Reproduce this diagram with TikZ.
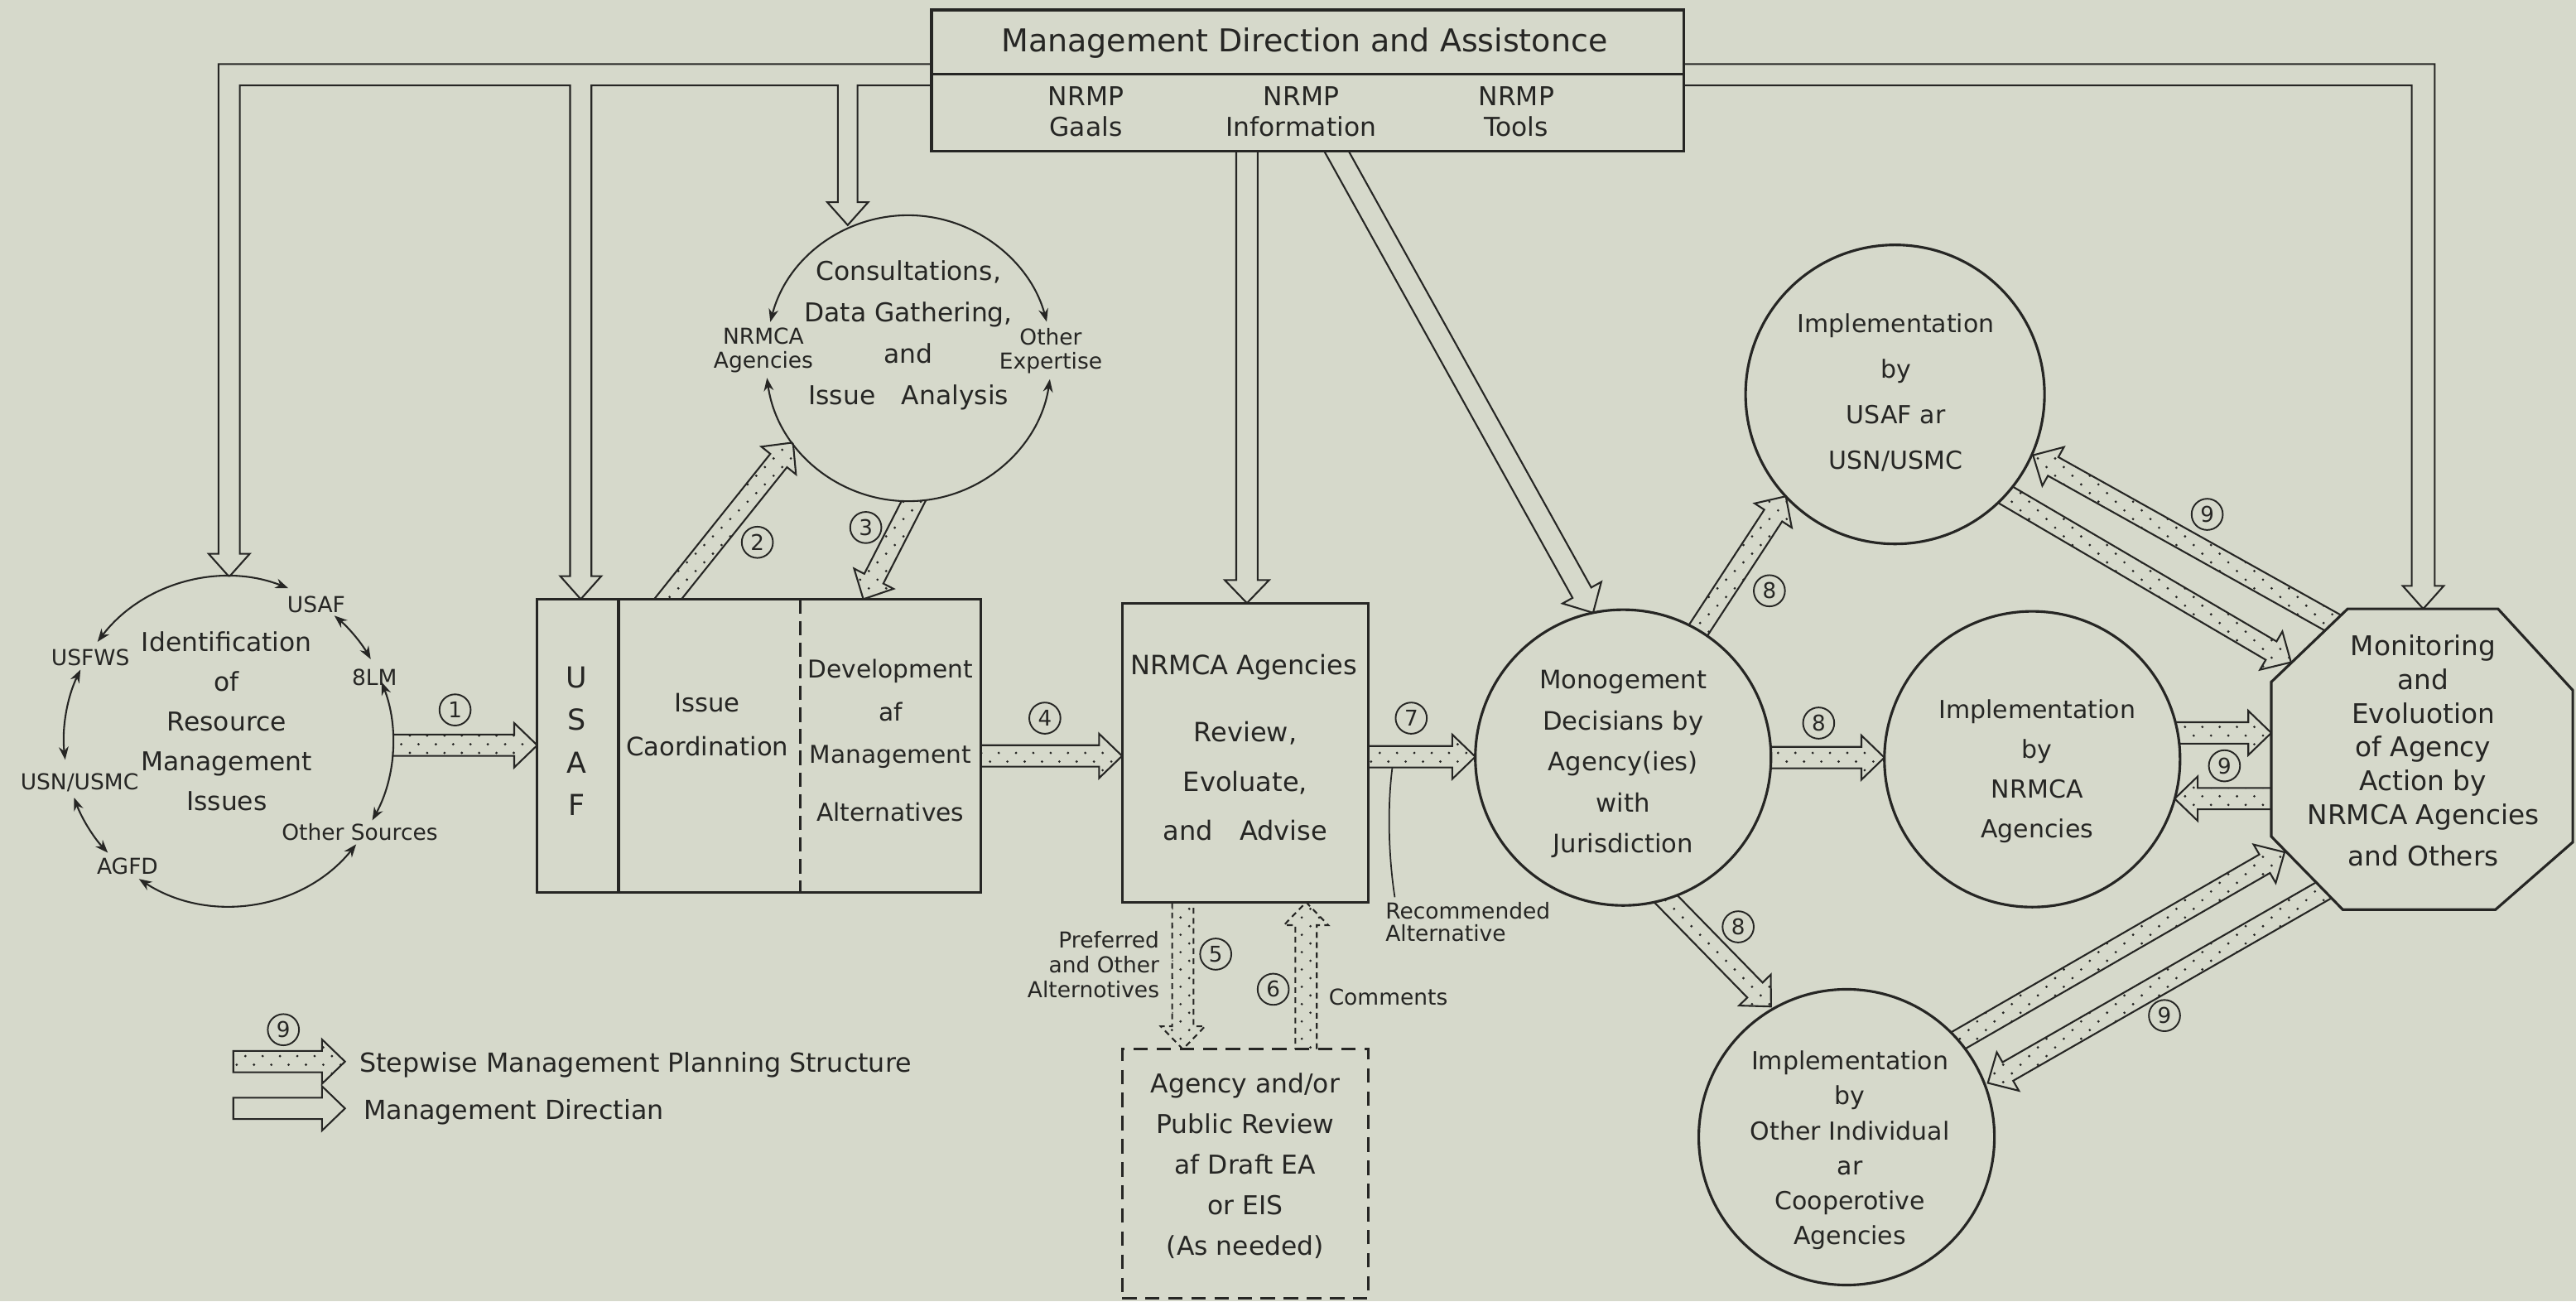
\documentclass[tikz,border=0pt]{standalone}
\usepackage{fontspec}
\setmainfont{DejaVu Sans}
\usetikzlibrary{calc,arrows.meta,patterns}
\definecolor{bgc}{RGB}{214,217,203}
\definecolor{ink}{RGB}{38,38,36}
\pgfdeclarelayer{back}
\pgfdeclarelayer{bg}
\pgfsetlayers{back,bg,main}
\pgfdeclarepatternformonly{sparsedots}{\pgfqpoint{-1pt}{-1pt}}{\pgfqpoint{7pt}{7pt}}{\pgfqpoint{6pt}{6pt}}{%
  \pgfpathcircle{\pgfqpoint{1pt}{1pt}}{0.45pt}\pgfusepath{fill}%
  \pgfpathcircle{\pgfqpoint{4pt}{4pt}}{0.45pt}\pgfusepath{fill}}
\newcommand\fasw{0.13cm}
\newcommand\fahw{0.27cm}
\newcommand\fahl{0.28cm}
% stepwise arrow, tail hidden inside the source node
\newcommand\stepar[3][]{%
  \coordinate (tq) at ($(#2)!-0.3cm!(#3)$);
  \coordinate (hq) at ($(#3)!\fahl!(#2)$);
  \draw[steparrow,#1] ($(tq)!\fasw!90:(#3)$) -- ($(hq)!\fasw!90:(#3)$) -- ($(hq)!\fahw!90:(#3)$) -- (#3) -- ($(hq)!\fahw!-90:(#3)$) -- ($(hq)!\fasw!-90:(#3)$) -- ($(tq)!\fasw!-90:(#3)$) -- cycle;}
% management direction arrow (hollow, open tail)
\newcommand\mgar[3][]{%
  \coordinate (tq) at ($(#2)!-0.3cm!(#3)$);
  \coordinate (hq) at ($(#3)!\fahl!(#2)$);
  \draw[mline,#1] ($(tq)!\fasw!90:(#3)$) -- ($(hq)!\fasw!90:(#3)$) -- ($(hq)!\fahw!90:(#3)$) -- (#3) -- ($(hq)!\fahw!-90:(#3)$) -- ($(hq)!\fasw!-90:(#3)$) -- ($(tq)!\fasw!-90:(#3)$);}
% legend arrow, closed tail
\newcommand\legar[3][]{%
  \coordinate (hq) at ($(#3)!\fahl!(#2)$);
  \draw[mline,#1] ($(#2)!\fasw!90:(#3)$) -- ($(hq)!\fasw!90:(#3)$) -- ($(hq)!\fahw!90:(#3)$) -- (#3) -- ($(hq)!\fahw!-90:(#3)$) -- ($(hq)!\fasw!-90:(#3)$) -- ($(#2)!\fasw!-90:(#3)$) -- cycle;}

\begin{document}
\begin{tikzpicture}[x=0.02cm, y=-0.02cm,
  box/.style={draw=ink, line width=0.9pt, fill=bgc, inner sep=0pt},
  rnd/.style={circle, draw=ink, line width=0.9pt, fill=bgc, inner sep=0pt},
  txt/.style={text=ink, align=center, inner sep=0pt},
  num/.style={circle, draw=ink, line width=0.55pt, inner sep=0pt, minimum size=0.38cm, text=ink, font=\fontsize{7.5}{8}\selectfont},
  steparrow/.style={draw=ink, line width=0.6pt, pattern=sparsedots, pattern color=ink},
  mline/.style={draw=ink, line width=0.6pt},
  biarc/.style={draw=ink, line width=0.6pt, {Stealth[length=4.5pt,width=3.4pt]}-{Stealth[length=4.5pt,width=3.4pt]}},
  small/.style={txt, font=\fontsize{7.6}{8.4}\selectfont},
  main/.style={txt, font=\fontsize{8.8}{13.8}\selectfont}]
\useasboundingbox (0,0) rectangle (1568,792);
\begin{pgfonlayer}{back}
  \fill[bgc] (0,0) rectangle (1568,792);
\end{pgfonlayer}

% ---------------- nodes ----------------
\node[box, minimum width=9.16cm, minimum height=1.72cm] (top) at (796,49) {};
\draw[ink, line width=0.9pt] (567,45) -- (1025,45);
\node[txt, font=\fontsize{10.9}{12}\selectfont] (ttl) at (794,26) {Management Direction and Assistonce};
\node[txt, font=\fontsize{9}{10.8}\selectfont] (goals) at (661,68) {NRMP\\Gaals};
\node[txt, font=\fontsize{9}{10.8}\selectfont] (info) at (792,68) {NRMP\\Information};
\node[txt, font=\fontsize{9}{10.8}\selectfont] (tools) at (923,68) {NRMP\\Tools};

\node[circle, fill=bgc, inner sep=0pt, minimum size=4cm] (idc) at (139,451) {};
\node[circle, fill=bgc, inner sep=0pt, minimum size=3.48cm] (cons) at (553,218) {};

\node[box, minimum width=5.4cm, minimum height=3.568cm] (usaf) at (462,453.8) {};
\draw[ink, line width=0.9pt] (376.5,364.6) -- (376.5,543);
\draw[ink, line width=0.9pt, dash pattern=on 5pt off 2.5pt] (487,364.6) -- (487,543);

\node[box, minimum width=3cm, minimum height=3.64cm] (nrmca) at (758,458) {};
\node[box, dash pattern=on 5pt off 3pt, minimum width=3cm, minimum height=3.03cm] (review) at (758,714.25) {};

\node[rnd, minimum size=3.6cm] (dec) at (988,461) {};
\node[rnd, minimum size=3.64cm] (imp1) at (1153.5,240) {};
\node[rnd, minimum size=3.6cm] (imp2) at (1237,462) {};
\node[rnd, minimum size=3.6cm] (imp3) at (1124,692) {};
\draw[ink, line width=0.9pt, fill=bgc] (1429,370.5) -- (1520.5,370.5) -- (1566,420) -- (1566,512.5) -- (1519,553.5) -- (1426,553.5) -- (1382.5,509) -- (1382.5,415) -- cycle;

% ---------------- arcs ----------------
\draw[biarc] ($(idc)+(142.8:2cm)$) arc[start angle=142.8, end angle=68.6, radius=2cm];
\draw[biarc] ($(idc)+(49.8:2cm)$) arc[start angle=49.8, end angle=29.9, radius=2cm];
\draw[biarc] ($(idc)+(21.1:2cm)$) arc[start angle=21.1, end angle=-28.8, radius=2cm];
\draw[biarc] ($(idc)+(-38.9:2cm)$) arc[start angle=-38.9, end angle=-123, radius=2cm];
\draw[biarc] ($(idc)+(-137.2:2cm)$) arc[start angle=-137.2, end angle=-159.9, radius=2cm];
\draw[biarc] ($(idc)+(186.5:2cm)$) arc[start angle=186.5, end angle=154.2, radius=2cm];

\draw[biarc] ($(cons)+(165.3:1.74cm)$) arc[start angle=165.3, end angle=14.8, radius=1.74cm];
\draw[biarc] ($(cons)+(187.9:1.74cm)$) arc[start angle=187.9, end angle=351.6, radius=1.74cm];

% ---------------- texts ----------------
\node[main, font=\fontsize{9}{13.77}\selectfont] (idt) at (138,439) {Identification\\of\\Resource\\Management\\Issues};
\node[small] (l1) at (55,400) {USFWS};
\node[small] (l2) at (192.5,368) {USAF};
\node[small] (l3) at (228,412) {8LM};
\node[small] (l4) at (219,506.5) {Other Sources};
\node[small] (l5) at (77.6,527) {AGFD};
\node[small] (l6) at (48.4,476) {USN/USMC};

\node[main, font=\fontsize{9}{14.34}\selectfont] (const) at (553,204) {Consultations,\\Data Gathering,\\and\\Issue\quad Analysis};
\node[small] (l7) at (464.7,213) {NRMCA\\Agencies};
\node[small] (l8) at (639.6,213.5) {Other\\Expertise};

\node[main, font=\fontsize{10}{14.8}\selectfont] (usaft) at (351,451) {U\\S\\A\\F};
\node[main, font=\fontsize{8.8}{15.37}\selectfont] (issue) at (430.5,441) {Issue\\Caordination};
\node[main, font=\fontsize{8.5}{14.8}\selectfont] (devt) at (542,450.5) {Development\\af\\Management\\[0.18cm]Alternatives};

\node[main, font=\fontsize{9.2}{12}\selectfont] (nrmt) at (757,406) {NRMCA Agencies};
\node[main, font=\fontsize{9.2}{17.07}\selectfont] (revt) at (758,475.5) {Review,\\Evoluate,\\and\quad Advise};
\node[main, font=\fontsize{9}{14.09}\selectfont] (pubt) at (758,709.5) {Agency and/or\\Public Review\\af Draft EA\\or EIS\\(As needed)};
\node[small, align=right, anchor=east, font=\fontsize{7.6}{8.54}\selectfont] (pref) at (706,587) {Preferred\\and Other\\Alternotives};
\node[small] (comm) at (845,607) {Comments};
\node[small, align=left, anchor=west, font=\fontsize{7.6}{7.97}\selectfont] (recm) at (843,561) {Recommended\\Alternative};

\node[main, font=\fontsize{8.8}{14.23}\selectfont] (dect) at (988,465) {Monogement\\Decisians by\\Agency(ies)\\with\\Jurisdiction};
\node[main, font=\fontsize{8.6}{15.82}\selectfont] (imp1t) at (1154,239) {Implementation\\by\\USAF ar\\USN/USMC};
\node[main, font=\fontsize{8.6}{13.77}\selectfont] (imp2t) at (1240,469.5) {Implementation\\by\\NRMCA\\Agencies};
\node[main, font=\fontsize{8.6}{12.12}\selectfont] (imp3t) at (1126,700) {Implementation\\by\\Other Individual\\ar\\Cooperotive\\Agencies};
\node[main, font=\fontsize{9.4}{11.67}\selectfont] (mon) at (1475,457) {Monitoring\\and\\Evoluotion\\of Agency\\Action by\\NRMCA Agencies\\[0.1cm]and Others};

\node[txt, anchor=west, font=\fontsize{9.1}{10}\selectfont] (leg1) at (218.6,648) {Stepwise Management Planning Structure};
\node[txt, anchor=west, font=\fontsize{9.1}{10}\selectfont] (leg2) at (221,677) {Management Directian};

% ---------------- numbers ----------------
\node[num] (n1) at (277,432) {1};
\node[num] (n2) at (461,330) {2};
\node[num] (n3) at (527,321) {3};
\node[num] (n4) at (636,437) {4};
\node[num] (n5) at (740,580.6) {5};
\node[num] (n6) at (775,602) {6};
\node[num] (n7) at (859,437) {7};
\node[num] (n8a) at (1077,359.5) {8};
\node[num] (n8b) at (1107,440) {8};
\node[num] (n8c) at (1058,564) {8};
\node[num] (n9a) at (1343.5,313) {9};
\node[num] (n9b) at (1354,466) {9};
\node[num] (n9c) at (1317.5,618) {9};
\node[num] (n9l) at (172.5,626.6) {9};

% ---------------- connector end points ----------------
\coordinate (a1s) at (239,453.5);   \coordinate (a1e) at (327,453.5);
\coordinate (a2s) at (406.5,364.6); \coordinate (a2e) at (482.7,269.3);
\coordinate (a3s) at (556,305);     \coordinate (a3e) at (525.5,364.6);
\coordinate (a4s) at (597,460);     \coordinate (a4e) at (683,460);
\coordinate (a5s) at (720,549);     \coordinate (a5e) at (720,638.5);
\coordinate (a6s) at (795,638.5);   \coordinate (a6e) at (795,549);
\coordinate (a7s) at (833,460.5);   \coordinate (a7e) at (898,460.5);
\coordinate (a8as) at (1036,380);   \coordinate (a8ae) at (1087,302);
\coordinate (a8bs) at (1078,461);   \coordinate (a8be) at (1147,461);
\coordinate (a8cs) at (1015,548);   \coordinate (a8ce) at (1078,612.5);
\coordinate (a9as) at (1420,379);   \coordinate (a9ae) at (1237.5,277);
\coordinate (a9bs) at (1224,303);   \coordinate (a9be) at (1394.5,403);
\coordinate (a9cs) at (1325.6,446); \coordinate (a9ce) at (1382.5,446);
\coordinate (a9ds) at (1382.5,486); \coordinate (a9de) at (1323.7,486);
\coordinate (a9es) at (1194,632);   \coordinate (a9ee) at (1390.6,518.6);
\coordinate (a9fs) at (1414,542);   \coordinate (a9fe) at (1210,659);
\coordinate (mvs) at (759,92);      \coordinate (mve) at (759,367);
\coordinate (mds) at (813.5,92);    \coordinate (mde) at (969.7,372.9);
\coordinate (idtip) at (139.5,351);
\coordinate (usaftip) at (353.5,364.6);
\coordinate (constip) at (516,137);
\coordinate (montip) at (1475,370.5);
\coordinate (lg1s) at (142,646);    \coordinate (lg1e) at (210,646);
\coordinate (lg2s) at (142,674.5);  \coordinate (lg2e) at (210,674.5);
\coordinate (rcs) at (847.5,467);   \coordinate (rce) at (849,546);

% ---------------- connectors ----------------
\begin{pgfonlayer}{bg}
\stepar{a1s}{a1e}
\stepar{a2s}{a2e}
\stepar{a3s}{a3e}
\stepar{a4s}{a4e}
\stepar[dash pattern=on 2pt off 1.5pt]{a5s}{a5e}
\stepar[dash pattern=on 2pt off 1.5pt]{a6s}{a6e}
\stepar{a7s}{a7e}
\stepar{a8as}{a8ae}
\stepar{a8bs}{a8be}
\stepar{a8cs}{a8ce}
\stepar{a9as}{a9ae}
\stepar{a9bs}{a9be}
\stepar{a9cs}{a9ce}
\stepar{a9ds}{a9de}
\stepar{a9es}{a9ee}
\stepar{a9fs}{a9fe}
\mgar{mvs}{mve}
\mgar{mds}{mde}
% branched management-direction pipe, left
\draw[mline] (567,39) -- (133,39) -- ($(idtip)+(-6.5,-14)$) -- ($(idtip)+(-12.5,-14)$) -- (idtip) -- ($(idtip)+(12.5,-14)$) -- ($(idtip)+(6.5,-14)$) -- (146,52) -- (347,52) -- ($(usaftip)+(-6.5,-14)$) -- ($(usaftip)+(-12.5,-14)$) -- (usaftip) -- ($(usaftip)+(12.5,-14)$) -- ($(usaftip)+(6.5,-14)$) -- (360,52) -- (510,52) -- ($(constip)+(-6,-14)$) -- ($(constip)+(-12.5,-14)$) -- (constip) -- ($(constip)+(12.5,-14)$) -- ($(constip)+(6,-14)$) -- (522,52) -- (567,52);
% right
\draw[mline] (1025,39) -- (1482,39) -- ($(montip)+(7,-14)$) -- ($(montip)+(12.5,-14)$) -- (montip) -- ($(montip)+(-12.5,-14)$) -- ($(montip)+(-7,-14)$) -- (1468,52) -- (1025,52);
% legend
\legar[steparrow]{lg1s}{lg1e}
\legar{lg2s}{lg2e}
\draw[ink, line width=0.5pt] (rcs) .. controls (844.5,490) and (845,520) .. (rce);
\end{pgfonlayer}
\end{tikzpicture}
\end{document}
